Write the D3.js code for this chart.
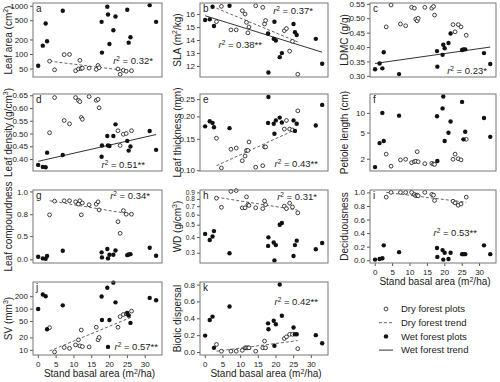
<!DOCTYPE html>
<html><head><meta charset="utf-8">
<script src="https://cdn.jsdelivr.net/npm/d3@7"></script>
<style>
body{margin:0;background:#fff}
svg{display:block}
text{font-family:"Liberation Sans",Arial,Helvetica,sans-serif;fill:#222}
</style>
</head><body>
<svg id="chart" width="500" height="382"></svg>
<script>
// ---- shared x (stand basal area, m2/ha) ----
const dryX = [3.3,4.7,7.4,8.9,10.6,11.4,11.8,12.2,12.5,14.4,16.4,16.9,17.2,22.5,23.1,24.0,24.8,26.3];
const wetX = [0.1,1.4,2.2,2.6,7.0,17.9,18.0,19.5,19.7,20.1,21.2,21.8,25.1,25.5,26.0,31.4,33.2];
const xTicks = [0,5,10,15,20,25,30];

// a Leaf area
const laDry = [71,47,97,98,45,49,74,50,51,51,48,58,52,49,38,46,44,45];
const laWet = [57,149,428,184,787,464,107,953,659,161,311,600,825,172,222,1030,464];
const laDryTrend = [71,44];
const laTicks = [50,100,200,500,1000];
// b SLA
const slaDry = [15.41,16.59,14.78,14.78,16.26,16.0,15.36,14.55,15.0,16.64,16.51,15.23,15.5,14.72,14.88,13.14,13.9,11.36];
const slaWet = [15.54,15.59,16.56,15.08,16.64,14.5,11.5,14.09,15.4,13.96,12.68,12.99,15.23,14.6,14.39,14.09,12.17];
const slaDryTrend = [16.45,13.85];
const slaWetTrend = [15.87,13.06];
const slaTicks = [12,13,14,15,16];
// c LDMC
const ldmcDry = [0.470,0.546,0.48,0.474,0.538,0.535,0.497,0.491,0.50,0.538,0.535,0.541,0.511,0.478,0.453,0.478,0.47,0.441];
const ldmcWet = [0.323,0.343,0.326,0.382,0.306,0.386,0.332,0.373,0.408,0.396,0.414,0.447,0.390,0.392,0.392,0.379,0.341];
const ldmcWetTrend = [0.343,0.400];
const ldmcTicks = [0.30,0.35,0.40,0.45,0.50,0.55];
// d Leaf density
const ldDry = [0.503,0.641,0.551,0.538,0.641,0.63,0.625,0.563,0.556,0.645,0.63,0.634,0.601,0.511,0.453,0.497,0.50,0.511];
const ldWet = [0.377,0.369,0.368,0.425,0.416,0.409,0.453,0.490,0.453,0.451,0.490,0.536,0.471,0.433,0.449,0.510,0.436];
const ldWetTrend = [0.391,0.496];
const ldTicks = [0.40,0.45,0.50,0.55,0.60,0.65];
// e Leaf thickness
const ltDry = [0.151,0.103,0.131,0.133,0.113,0.120,0.129,0.129,0.144,0.104,0.106,0.135,0.135,0.170,0.190,0.170,0.168,0.215];
const ltWet = [0.176,0.188,0.184,0.174,0.172,0.184,0.257,0.182,0.160,0.190,0.197,0.185,0.190,0.166,0.182,0.178,0.232];
const ltDryTrend = [0.106,0.171];
const ltTicks = [0.10,0.15,0.20,0.25];
// f Petiole length
const plDry = [2.35,1.54,1.92,1.96,1.74,1.81,1.83,2.56,1.80,1.68,1.70,1.66,1.64,1.96,2.35,2.0,1.92,3.95];
const plWet = [1.49,3.46,10.0,3.72,9.08,8.87,1.85,11.7,17.8,3.72,4.97,7.4,14.7,3.95,5.15,8.34,4.31];
const plTicks = [2,5,10];
// g Leaf compoundness
const lcDry = [0.793,0.926,0.929,0.929,0.92,0.90,0.929,0.793,0.91,0.894,0.90,0.92,0.845,0.712,0.546,0.838,0.80,0.80];
const lcWet = [0.07,0.027,0.018,0.087,0.214,0.176,0.053,0.252,0.027,0.12,0.12,0.22,0.11,0.127,0.134,0.28,0.096];
const lcDryTrend = [0.929,0.80];
const lcTicks = [0.0,0.5,0.8,1.0];
// h WD
const wdDry = [0.81,0.686,0.917,0.93,0.68,0.68,0.83,0.72,0.71,0.68,0.67,0.77,0.72,0.70,0.67,0.74,0.69,0.62];
const wdWet = [0.423,0.378,0.403,0.445,0.297,0.340,0.397,0.362,0.261,0.345,0.50,0.515,0.283,0.345,0.374,0.320,0.358];
const wdDryTrend = [0.825,0.652];
const wdTicks = [0.3,0.4,0.5,0.6,0.7,0.8,0.9];
// i Deciduousness
const decDry = [0.93,1.0,1.0,1.0,1.0,0.97,0.95,0.96,0.95,1.0,0.97,0.96,0.88,0.87,0.845,0.81,0.83,0.93];
const decWet = [0.01,0.02,0.03,0.22,0.12,0.18,0.05,0.15,0.01,0.11,0.02,0.11,0.09,0.09,0.09,0.22,0.09];
const decDryTrend = [1.0,0.855];
const decTicks = [0.0,0.2,0.4,0.6,0.8,1.0];
// j SV
const svDry = [34.6,8.9,11.4,10.9,13.2,17.5,12.5,30.3,12,11.8,35.3,17.5,20,35.3,64,72,75,87];
const svWet = [97.6,220,200,31.5,120,196,53,320,11.8,53,426,142,78,68,45,182,160];
const svDryTrend = [9.4,62];
const svTicks = [10,20,50,100,200];
// k Biotic dispersal
const bdDry = [0.09,0.01,0.01,0.01,0.02,0.05,0.05,0.05,0.05,0.01,0.05,0.13,0.05,0.16,0.18,0.21,0.21,0.04];
const bdWet = [0.195,0.38,0.42,0.05,0.54,0.34,0.27,0.37,0.075,0.33,0.80,0.43,0.29,0.21,0.21,0.20,0.105];
const bdDryTrend = [0.01,0.135];
const bdTicks = [0.0,0.2,0.4,0.6,0.8];

// ---- layout ----
const cols = [[33,162],[200,328],[370,496]];
const rows = [[3,77],[94,171],[190,263],[282,355]];
const xDomain = [-1.35,34.85];

// transform for leaf compoundness axis
const lcT = v => Math.log(1.35/(1.35 - v));

const panels = [
 {id:"a",c:0,r:0,title:["Leaf area (cm","2",")"],type:"log",dom:[33.4,1140],ticks:laTicks,fmt:d3.format("d"),dry:laDry,wet:laWet,dryT:laDryTrend,
  r2:[{t:"0.32*",dx:-9,dy:-13}]},
 {id:"b",c:1,r:0,title:["SLA (m","2","/kg)"],type:"lin",dom:[11.15,16.85],ticks:slaTicks,fmt:d3.format("d"),dry:slaDry,wet:slaWet,dryT:slaDryTrend,wetT:slaWetTrend,
  r2:[{t:"0.37*",dx:-15,dy:-63},{t:"0.38**",dx:-66,dy:-29}]},
 {id:"c",c:2,r:0,title:["LDMC (g/g)"],type:"lin",dom:[0.296,0.553],ticks:ldmcTicks,fmt:d3.format(".2f"),dry:ldmcDry,wet:ldmcWet,wetT:ldmcWetTrend,
  r2:[{t:"0.23*",dx:-9,dy:-3}]},
 {id:"d",c:0,r:1,title:["Leaf density (g/cm","3",")"],type:"lin",dom:[0.353,0.655],ticks:ldTicks,fmt:d3.format(".2f"),dry:ldDry,wet:ldWet,wetT:ldWetTrend,
  r2:[{t:"0.51**",dx:-17,dy:-3}]},
 {id:"e",c:1,r:1,title:["Leaf thickness (mm)"],type:"log",dom:[0.099,0.267],ticks:ltTicks,fmt:d3.format(".2f"),dry:ltDry,wet:ltWet,dryT:ltDryTrend,
  r2:[{t:"0.43**",dx:-10,dy:-4}]},
 {id:"f",c:2,r:1,title:["Petiole length (cm)"],type:"log",dom:[1.30,19.4],ticks:plTicks,fmt:d3.format("d"),dry:plDry,wet:plWet,
  r2:[]},
 {id:"g",c:0,r:2,title:["Leaf compoundness"],type:"lc",dom:[-0.10,1.01],ticks:lcTicks,fmt:d3.format(".1f"),dry:lcDry,wet:lcWet,dryT:lcDryTrend,
  r2:[{t:"0.34*",dx:-12,dy:-64}]},
 {id:"h",c:1,r:2,title:["WD (g/cm","3",")"],type:"log",dom:[0.249,0.94],ticks:wdTicks,fmt:d3.format(".1f"),dry:wdDry,wet:wdWet,dryT:wdDryTrend,
  r2:[{t:"0.31*",dx:-11,dy:-63}],tickFont:"6.6px"},
 {id:"i",c:2,r:2,title:["Deciduousness"],type:"lin",dom:[-0.04,1.035],ticks:decTicks,fmt:d3.format(".1f"),dry:decDry,wet:decWet,dryT:decDryTrend,xaxis:true,
  r2:[{t:"0.53**",dx:-19,dy:-27}]},
 {id:"j",c:0,r:3,title:["SV (mm","3",")"],type:"log",dom:[7.5,442],ticks:svTicks,fmt:d3.format("d"),dry:svDry,wet:svWet,dryT:svDryTrend,xaxis:true,
  r2:[{t:"0.57**",dx:-4,dy:-5}]},
 {id:"k",c:1,r:3,title:["Biotic dispersal"],type:"lin",dom:[-0.035,0.83],ticks:bdTicks,fmt:d3.format(".1f"),dry:bdDry,wet:bdWet,dryT:bdDryTrend,xaxis:true,
  r2:[{t:"0.42**",dx:-10,dy:-50}]}
];
const titleX = [8,177,344];

const svg = d3.select("#chart");

function r2Label(g, x, y, val){
  const t = g.append("text").attr("x",x).attr("y",y).attr("text-anchor","end").style("font-size","9.5px");
  t.append("tspan").style("font-style","italic").text("r");
  t.append("tspan").attr("dy",-3.5).style("font-size","6.5px").text("2");
  t.append("tspan").attr("dy",3.5).text(" = " + val);
}

panels.forEach(p=>{
  const [x0,x1] = cols[p.c];
  const [y0,y1] = rows[p.r];
  const x = d3.scaleLinear().domain(xDomain).range([x0,x1]);
  let yS, yv;
  if(p.type==="log"){ yS = d3.scaleLog().domain(p.dom).range([y1,y0]); yv = v=>yS(v); }
  else if(p.type==="lc"){ yS = d3.scaleLinear().domain(p.dom.map(lcT)).range([y1,y0]); yv = v=>yS(lcT(v)); }
  else { yS = d3.scaleLinear().domain(p.dom).range([y1,y0]); yv = v=>yS(v); }

  const g = svg.append("g");

  // y axis
  const tickVals = p.type==="lc" ? p.ticks.map(lcT) : p.ticks;
  const ax = d3.axisLeft(yS).tickValues(tickVals).tickSize(3).tickPadding(2)
     .tickFormat((d,i)=>p.fmt(p.ticks[i]));
  const ag = g.append("g").attr("transform",`translate(${x0},0)`).call(ax);
  ag.select(".domain").remove();
  ag.selectAll("line").attr("stroke","#555");
  ag.selectAll("text").style("font-size",p.tickFont||"8px").attr("fill","#222").style("font-family","'Liberation Sans',Arial,sans-serif");

  if(p.xaxis){
    const xa = d3.axisBottom(x).tickValues(xTicks).tickSize(3).tickPadding(3);
    const xg = g.append("g").attr("transform",`translate(0,${y1})`).call(xa);
    xg.select(".domain").remove();
    xg.selectAll("line").attr("stroke","#555");
    xg.selectAll("text").style("font-size","8px").attr("fill","#222").style("font-family","'Liberation Sans',Arial,sans-serif");
    const tt = g.append("text").attr("x",(x0+x1)/2+2).attr("y",y1+22).attr("text-anchor","middle").style("font-size","10px");
    tt.append("tspan").text("Stand basal area (m");
    tt.append("tspan").attr("dy",-3.5).style("font-size","7px").text("2");
    tt.append("tspan").attr("dy",3.5).text("/ha)");
  }

  // y title
  const ty = g.append("text").attr("transform",`translate(${titleX[p.c]},${(y0+y1)/2}) rotate(-90)`)
    .attr("text-anchor","middle").attr("dy","0.35em").style("font-size","10px");
  ty.append("tspan").text(p.title[0]);
  if(p.title.length>1){
    ty.append("tspan").attr("dy",-3.5).style("font-size","7px").text(p.title[1]);
    ty.append("tspan").attr("dy",3.5).text(p.title[2]);
  }

  // trends
  const dExt = d3.extent(dryX), wExt = d3.extent(wetX);
  if(p.dryT){
    g.append("path").attr("d",d3.line()([[x(dExt[0]),yv(p.dryT[0])],[x(dExt[1]),yv(p.dryT[1])]]))
      .attr("stroke","#555").attr("stroke-width",0.9).attr("stroke-dasharray","3,2").attr("fill","none");
  }
  if(p.wetT){
    g.append("path").attr("d",d3.line()([[x(wExt[0]),yv(p.wetT[0])],[x(wExt[1]),yv(p.wetT[1])]]))
      .attr("stroke","#333").attr("stroke-width",1).attr("fill","none");
  }

  // points
  g.selectAll(".dry").data(dryX.map((d,i)=>[d,p.dry[i]])).join("circle")
    .attr("cx",d=>x(d[0])).attr("cy",d=>yv(d[1])).attr("r",1.9)
    .attr("fill","#fff").attr("stroke","#111").attr("stroke-width",0.8);
  g.selectAll(".wet").data(wetX.map((d,i)=>[d,p.wet[i]])).join("circle")
    .attr("cx",d=>x(d[0])).attr("cy",d=>yv(d[1])).attr("r",2.2)
    .attr("fill","#111");

  // box
  g.append("rect").attr("x",x0).attr("y",y0).attr("width",x1-x0).attr("height",y1-y0)
    .attr("fill","none").attr("stroke","#777").attr("stroke-width",1);

  // panel letter
  g.append("text").attr("x",x0+3).attr("y",y0+9).style("font-size","10px").text(p.id);

  p.r2.forEach(l=> r2Label(g, x1+l.dx, y1+l.dy, l.t));
});

// legend
const legItems = [
  {label:"Dry forest plots",kind:"dry"},
  {label:"Dry forest trend",kind:"dryT"},
  {label:"Wet forest plots",kind:"wet"},
  {label:"Wet forest trend",kind:"wetT"}
];
const leg = svg.append("g");
legItems.forEach((d,i)=>{
  const y = 309 + i*13.7;
  const cx = 386;
  if(d.kind==="dry") leg.append("circle").attr("cx",cx).attr("cy",y).attr("r",1.9).attr("fill","#fff").attr("stroke","#111").attr("stroke-width",0.8);
  if(d.kind==="wet") leg.append("circle").attr("cx",cx).attr("cy",y).attr("r",2.2).attr("fill","#111");
  if(d.kind==="dryT") leg.append("line").attr("x1",cx-7).attr("x2",cx+7).attr("y1",y).attr("y2",y).attr("stroke","#555").attr("stroke-dasharray","3,2").attr("stroke-width",0.9);
  if(d.kind==="wetT") leg.append("line").attr("x1",cx-7).attr("x2",cx+7).attr("y1",y).attr("y2",y).attr("stroke","#333").attr("stroke-width",1);
  leg.append("text").attr("x",401).attr("y",y).attr("dy","0.35em").style("font-size","9.5px").text(d.label);
});
</script>
</body></html>
